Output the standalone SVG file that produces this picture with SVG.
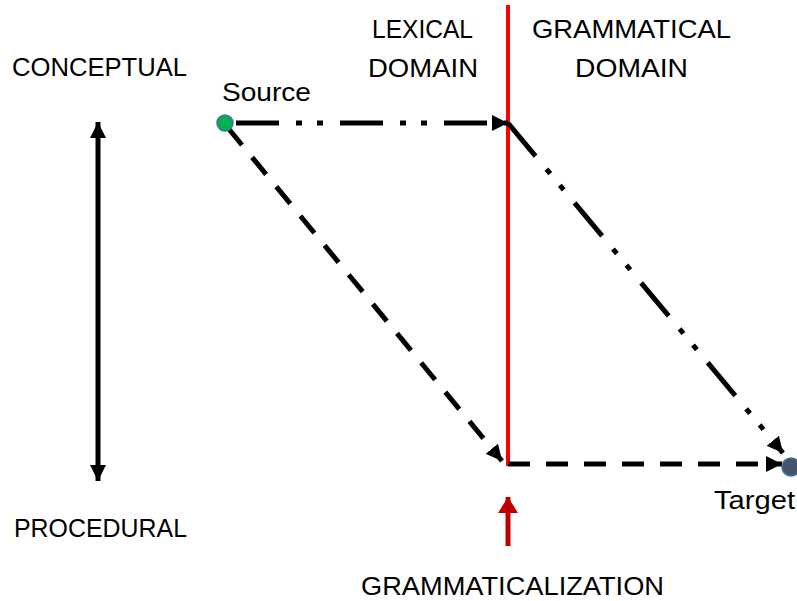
<svg xmlns="http://www.w3.org/2000/svg" width="797" height="601" viewBox="0 0 797 601">
<defs>
<marker id="ah" markerUnits="userSpaceOnUse" markerWidth="18" markerHeight="16" refX="16" refY="8" orient="auto">
<path d="M0,0 L16,8 L0,16 Z" fill="#000"/>
</marker>
<marker id="ahs" markerUnits="userSpaceOnUse" markerWidth="18" markerHeight="16" refX="16" refY="8" orient="auto-start-reverse">
<path d="M0,0 L16,8 L0,16 Z" fill="#000"/>
</marker>
<marker id="ahr" markerUnits="userSpaceOnUse" markerWidth="18" markerHeight="20" refX="16" refY="10" orient="auto">
<path d="M0,0 L16,10 L0,20 Z" fill="#C00000"/>
</marker>
</defs>
<style>
text{font-family:"Liberation Sans",Arial,sans-serif;font-size:25px;fill:#000}
.dd{stroke:#000;stroke-width:5;fill:none;stroke-dasharray:43 17 6 15 6 17}
.da{stroke:#000;stroke-width:5;fill:none;stroke-dasharray:22 16}
</style>
<rect width="797" height="601" fill="#fff"/>
<g id="labels">
<text x="12" y="76" textLength="175" lengthAdjust="spacingAndGlyphs">CONCEPTUAL</text>
<text x="14" y="537" textLength="173" lengthAdjust="spacingAndGlyphs">PROCEDURAL</text>
<text x="372" y="38" textLength="101" lengthAdjust="spacingAndGlyphs">LEXICAL</text>
<text x="368" y="77" textLength="110" lengthAdjust="spacingAndGlyphs">DOMAIN</text>
<text x="532" y="38" textLength="199" lengthAdjust="spacingAndGlyphs">GRAMMATICAL</text>
<text x="575" y="77" textLength="113" lengthAdjust="spacingAndGlyphs">DOMAIN</text>
<text x="361" y="595" textLength="303" lengthAdjust="spacingAndGlyphs">GRAMMATICALIZATION</text>
</g>
<g id="divider">
<line x1="508" y1="5" x2="508" y2="466" stroke="#FF0000" stroke-width="4"/>
</g>
<g id="connectors">
<line x1="98" y1="122" x2="98" y2="481" stroke="#000" stroke-width="5" marker-start="url(#ahs)" marker-end="url(#ah)"/>
<line class="dd" x1="236" y1="123" x2="508" y2="123" marker-end="url(#ah)"/>
<line class="dd" x1="508" y1="123" x2="783" y2="453" marker-end="url(#ah)"/>
<line class="da" x1="228" y1="128" x2="502" y2="461" marker-end="url(#ah)"/>
<line class="da" x1="508" y1="464" x2="782" y2="464" marker-end="url(#ah)"/>
<line x1="508" y1="546" x2="508" y2="497" stroke="#C00000" stroke-width="5" marker-end="url(#ahr)"/>
</g>
<g id="source">
<circle cx="225" cy="123" r="8" fill="#00B050" stroke="#41719C" stroke-width="1.5"/>
<text x="222" y="101" textLength="89" lengthAdjust="spacingAndGlyphs">Source</text>
</g>
<g id="target">
<circle cx="791" cy="467" r="9" fill="#44546A" stroke="#41719C" stroke-width="1.5"/>
<text x="714" y="509" textLength="81" lengthAdjust="spacingAndGlyphs">Target</text>
</g>
</svg>
